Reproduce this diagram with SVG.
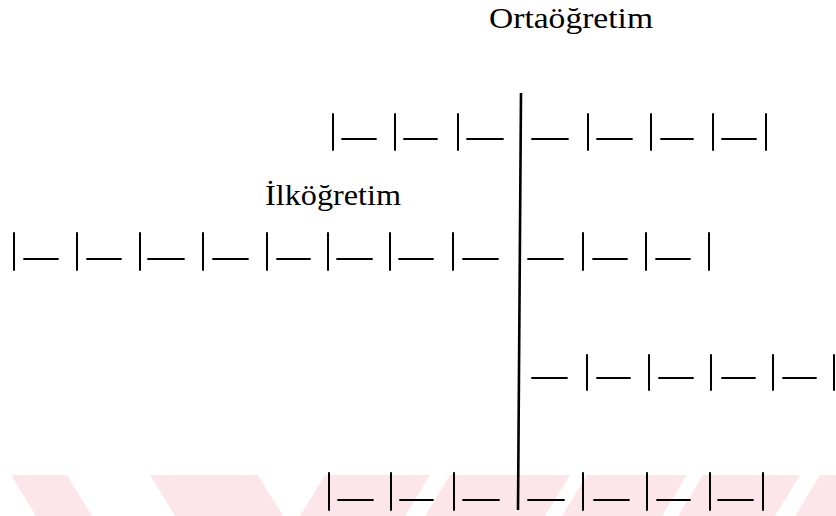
<svg xmlns="http://www.w3.org/2000/svg" width="836" height="516" viewBox="0 0 836 516">
<style>
  .wm { fill: #fde6e9; stroke: none; }
  .tick { stroke: #000; stroke-width: 2; stroke-linecap: round; fill: none; }
  .dash { stroke: #000; stroke-width: 1.8; stroke-linecap: round; fill: none; }
  .axis { stroke: #000; stroke-width: 2.6; fill: none; }
  .lbl { font-family: "Liberation Serif", "Times New Roman", serif; font-size: 30px; fill: #000; }
</style>
<rect width="836" height="516" fill="#fff"/>
<g id="watermark">
  <polygon class="wm" points="11,475 67,475 92,516 36,516"/>
  <polygon class="wm" points="150,475 258,475 283,516 175,516"/>
  <polygon class="wm" points="325,475 430,475 405,516 300,516"/>
  <polygon class="wm" points="450,475 570,475 545,516 425,516"/>
  <polygon class="wm" points="587,475 687,475 662,516 562,516"/>
  <polygon class="wm" points="703,475 800,475 775,516 678,516"/>
  <polygon class="wm" points="820,475 836,475 836,516 795,516"/>
</g>
<g id="labels">
  <text id="ortaogretim" class="lbl" x="489" y="28" textLength="164" lengthAdjust="spacingAndGlyphs">Ortaöğretim</text>
  <text id="ilkogretim" class="lbl" x="265" y="205" textLength="136" lengthAdjust="spacingAndGlyphs">İlköğretim</text>
</g>
<g id="connectors">
  <line id="axis" class="axis" x1="521" y1="93" x2="518" y2="510"/>
</g>
<g id="row1">
  <line class="tick" x1="333" y1="114" x2="333" y2="150"/>
  <line class="dash" x1="342" y1="139" x2="376" y2="139"/>
  <line class="tick" x1="395" y1="114" x2="395" y2="150"/>
  <line class="dash" x1="404" y1="139" x2="437" y2="139"/>
  <line class="tick" x1="458" y1="114" x2="458" y2="150"/>
  <line class="dash" x1="467" y1="139" x2="503" y2="139"/>
  <line class="dash" x1="532" y1="139" x2="568" y2="139"/>
  <line class="tick" x1="588" y1="114" x2="588" y2="150"/>
  <line class="dash" x1="597" y1="139" x2="632" y2="139"/>
  <line class="tick" x1="651" y1="114" x2="651" y2="150"/>
  <line class="dash" x1="661" y1="139" x2="693" y2="139"/>
  <line class="tick" x1="713" y1="114" x2="713" y2="150"/>
  <line class="dash" x1="722" y1="139" x2="756" y2="139"/>
  <line class="tick" x1="766" y1="114" x2="766" y2="150"/>
</g>
<g id="row2">
  <line class="tick" x1="14" y1="233" x2="14" y2="270"/>
  <line class="dash" x1="24" y1="259" x2="58" y2="259"/>
  <line class="tick" x1="77" y1="233" x2="77" y2="270"/>
  <line class="dash" x1="87" y1="259" x2="121" y2="259"/>
  <line class="tick" x1="140" y1="233" x2="140" y2="270"/>
  <line class="dash" x1="148" y1="259" x2="184" y2="259"/>
  <line class="tick" x1="203" y1="233" x2="203" y2="270"/>
  <line class="dash" x1="213" y1="259" x2="248" y2="259"/>
  <line class="tick" x1="267" y1="233" x2="267" y2="270"/>
  <line class="dash" x1="277" y1="259" x2="310" y2="259"/>
  <line class="tick" x1="328" y1="233" x2="328" y2="270"/>
  <line class="dash" x1="337" y1="259" x2="372" y2="259"/>
  <line class="tick" x1="390" y1="233" x2="390" y2="270"/>
  <line class="dash" x1="399" y1="259" x2="433" y2="259"/>
  <line class="tick" x1="453" y1="233" x2="453" y2="270"/>
  <line class="dash" x1="463" y1="259" x2="498" y2="259"/>
  <line class="dash" x1="528" y1="259" x2="563" y2="259"/>
  <line class="tick" x1="583" y1="233" x2="583" y2="270"/>
  <line class="dash" x1="593" y1="259" x2="627" y2="259"/>
  <line class="tick" x1="646" y1="233" x2="646" y2="270"/>
  <line class="dash" x1="656" y1="259" x2="690" y2="259"/>
  <line class="tick" x1="709" y1="233" x2="709" y2="270"/>
</g>
<g id="row3">
  <line class="dash" x1="532" y1="378" x2="567" y2="378"/>
  <line class="tick" x1="587" y1="355" x2="587" y2="390"/>
  <line class="dash" x1="597" y1="378" x2="630" y2="378"/>
  <line class="tick" x1="649" y1="355" x2="649" y2="390"/>
  <line class="dash" x1="659" y1="378" x2="693" y2="378"/>
  <line class="tick" x1="711" y1="355" x2="711" y2="390"/>
  <line class="dash" x1="722" y1="378" x2="755" y2="378"/>
  <line class="tick" x1="773" y1="355" x2="773" y2="390"/>
  <line class="dash" x1="783" y1="378" x2="816" y2="378"/>
  <line class="tick" x1="834" y1="355" x2="834" y2="390"/>
</g>
<g id="row4">
  <line class="tick" x1="329" y1="473" x2="329" y2="510"/>
  <line class="dash" x1="338" y1="500" x2="373" y2="500"/>
  <line class="tick" x1="391" y1="473" x2="391" y2="510"/>
  <line class="dash" x1="400" y1="500" x2="433" y2="500"/>
  <line class="tick" x1="454" y1="473" x2="454" y2="510"/>
  <line class="dash" x1="463" y1="500" x2="499" y2="500"/>
  <line class="dash" x1="528" y1="500" x2="564" y2="500"/>
  <line class="tick" x1="583" y1="473" x2="583" y2="510"/>
  <line class="dash" x1="594" y1="500" x2="629" y2="500"/>
  <line class="tick" x1="647" y1="473" x2="647" y2="510"/>
  <line class="dash" x1="657" y1="500" x2="690" y2="500"/>
  <line class="tick" x1="710" y1="473" x2="710" y2="510"/>
  <line class="dash" x1="718" y1="500" x2="753" y2="500"/>
  <line class="tick" x1="763" y1="473" x2="763" y2="510"/>
</g>
</svg>
